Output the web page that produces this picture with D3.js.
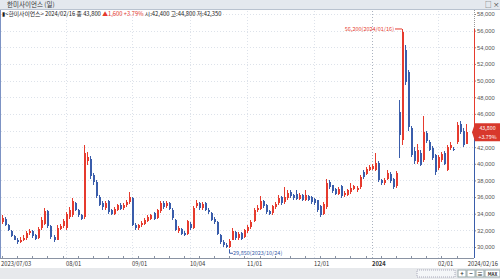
<!DOCTYPE html>
<html>
<head>
<meta charset="utf-8">
<script src="https://cdn.jsdelivr.net/npm/d3@7"></script>
<style>
  body { margin: 0; background: #fff; }
  svg { display: block; font-family: "Noto Sans CJK KR", "DejaVu Sans", sans-serif; }
</style>
</head>
<body>
<div id="viz-container"></div>
<script>
// trading days shown on the chart
const dates = [
  "2023/07/03","2023/07/04","2023/07/05","2023/07/06","2023/07/07","2023/07/10","2023/07/11","2023/07/12","2023/07/13","2023/07/14",
  "2023/07/17","2023/07/18","2023/07/19","2023/07/20","2023/07/21","2023/07/24","2023/07/25","2023/07/26","2023/07/27","2023/07/28","2023/07/31",
  "2023/08/01","2023/08/02","2023/08/03","2023/08/04","2023/08/07","2023/08/08","2023/08/09","2023/08/10","2023/08/11","2023/08/14","2023/08/16",
  "2023/08/17","2023/08/18","2023/08/21","2023/08/22","2023/08/23","2023/08/24","2023/08/25","2023/08/28","2023/08/29","2023/08/30","2023/08/31",
  "2023/09/01","2023/09/04","2023/09/05","2023/09/06","2023/09/07","2023/09/08","2023/09/11","2023/09/12","2023/09/13","2023/09/14","2023/09/15",
  "2023/09/18","2023/09/19","2023/09/20","2023/09/21","2023/09/22","2023/09/25","2023/09/26","2023/09/27",
  "2023/10/04","2023/10/05","2023/10/06","2023/10/10","2023/10/11","2023/10/12","2023/10/13","2023/10/16","2023/10/17","2023/10/18","2023/10/19",
  "2023/10/20","2023/10/23","2023/10/24","2023/10/25","2023/10/26","2023/10/27","2023/10/30","2023/10/31",
  "2023/11/01","2023/11/02","2023/11/03","2023/11/06","2023/11/07","2023/11/08","2023/11/09","2023/11/10","2023/11/13","2023/11/14","2023/11/15",
  "2023/11/16","2023/11/17","2023/11/20","2023/11/21","2023/11/22","2023/11/23","2023/11/24","2023/11/27","2023/11/28","2023/11/29","2023/11/30",
  "2023/12/01","2023/12/04","2023/12/05","2023/12/06","2023/12/07","2023/12/08","2023/12/11","2023/12/12","2023/12/13","2023/12/14","2023/12/15",
  "2023/12/18","2023/12/19","2023/12/20","2023/12/21","2023/12/22","2023/12/26","2023/12/27","2023/12/28",
  "2024/01/02","2024/01/03","2024/01/04","2024/01/05","2024/01/08","2024/01/09","2024/01/10","2024/01/11","2024/01/12","2024/01/15","2024/01/16",
  "2024/01/17","2024/01/18","2024/01/19","2024/01/22","2024/01/23","2024/01/24","2024/01/25","2024/01/26","2024/01/29","2024/01/30","2024/01/31",
  "2024/02/01","2024/02/02","2024/02/05","2024/02/06","2024/02/07","2024/02/08","2024/02/13","2024/02/14","2024/02/15","2024/02/16"
];

const open = [
  33000,33400,32600,31900,31300,30900,30600,30900,31100,31700,31900,31400,31100,32300,32800,34300,32500,31200,30900,32200,32500,
  32300,33600,33800,35300,34500,33900,33600,40300,40600,38600,37800,36000,35300,34700,35500,34400,34000,34500,35100,34700,35000,35400,
  35900,32700,32300,32600,32800,33100,33400,34100,33500,34300,35300,34900,35300,34500,33300,31900,32200,31700,31600,
  32800,32300,34900,35300,34700,35300,34500,34100,33400,33000,31500,30600,30300,30000,30900,31800,31100,31700,31200,
  31900,32400,33100,34400,34600,35500,35000,34300,34100,34800,35300,36000,35400,35900,36600,36300,36400,35800,36200,35700,36100,36000,
  35800,35600,34900,34000,34800,37800,37400,37000,36400,37300,36200,36300,36600,37000,36900,37200,39000,38800,39300,
  39400,39300,40100,38000,37700,38200,38800,38200,37300,46200,42800,53700,51000,44300,41500,40200,41300,40500,43700,42600,41900,41000,
  39500,40400,41300,39300,41900,41800,42600,44800,43900,42400
];
const close = [
  33500,32700,32000,31300,30900,30600,30900,31100,31700,31900,31300,31000,32200,33200,34300,32500,31200,30800,32300,32500,33100,
  34000,34400,35500,34500,33800,33400,41300,40800,38500,37800,36100,35100,34800,35300,34200,34000,34600,35000,34600,35100,35400,36000,
  32700,32300,32600,32900,33300,33600,33800,33400,34400,35300,34800,35300,34600,33500,32100,32300,31600,31500,33100,
  32300,34700,35300,34700,35200,34500,34200,33300,33000,31600,30600,30200,30000,30700,31900,31100,31600,31000,32000,
  32400,33000,34500,34700,35500,34900,34200,34000,34900,35200,35900,35300,36000,36500,36100,35900,35800,36300,35700,36300,35700,35400,
  35300,34400,33800,35200,37700,37200,36700,36400,37000,36100,36500,36800,37100,37300,37100,38400,38400,39400,39600,
  39700,40100,38000,37700,38000,38900,37900,37200,38900,43500,55800,49800,44400,41100,40300,41700,39900,43800,42700,41700,40700,39000,
  40800,41200,40000,42000,42200,41700,44700,43800,42200,43800
];
const high = [
  33800,33600,32800,32100,31500,31100,31200,31400,31900,32200,32000,31600,32400,33600,34700,34500,32600,31400,32600,32800,33400,
  34200,34800,35900,35400,34600,34000,42300,41400,40900,38900,38000,36200,35500,35500,35700,34600,34800,35200,35300,35300,35600,36600,
  36000,32900,32800,33100,33500,33800,34000,34200,34600,35500,35500,35500,35400,34700,33400,32500,32300,31900,33300,
  33000,34900,35700,35400,35400,35400,34700,34200,33600,33100,31600,30800,30500,31000,32300,31900,31800,31800,32200,
  32600,33200,34700,35000,36100,35600,35200,34500,35100,35400,36200,36100,37200,36800,36800,36400,36900,36500,36400,36900,36300,36100,
  35900,35700,35000,35400,38200,38000,37500,37100,37200,37400,36700,37000,37700,37500,37300,38600,39200,39600,39800,
  40000,41300,40300,38200,38300,39200,39000,38300,39100,47700,56200,54300,51300,44600,42000,42400,41600,45700,44000,42800,42100,41200,
  41000,41400,41500,42300,42600,42000,45000,45100,44300,44800
];
const low = [
  32800,32500,31900,31200,30800,30400,30500,30700,30900,31500,31100,30800,31000,32100,32600,32300,31000,30600,30800,32000,32300,
  32100,33400,33600,34300,33600,33200,33400,39900,38200,37500,35900,34900,34500,34500,34000,33800,33900,34300,34400,34500,34800,35200,
  32500,32100,32100,32400,32600,33000,33200,33200,33400,34100,34600,34700,34400,33300,31900,31700,31400,31300,31400,
  32100,32200,34700,34500,34500,34300,34000,33100,32800,31400,30400,30000,29900,29850,30800,30900,30900,30800,31100,
  31700,32200,33000,34200,34400,34700,34000,33800,33900,34600,35100,35100,35200,35700,35900,35700,35600,35600,35500,35500,35500,35200,
  35100,34200,33600,33900,34600,37000,36500,36200,36200,35900,36000,36100,36400,36800,36600,37000,38200,38600,39100,
  39200,39100,37800,37500,37500,38000,37700,37000,37100,40700,42300,49500,44000,40800,40000,40000,39700,40200,42500,41500,40500,38700,
  39300,40200,39800,39100,41700,41500,42400,43600,42000,42350
];

const yTicks = [30000,32000,34000,36000,38000,40000,42000,44000,46000,48000,50000,52000,54000,56000,58000];
const monthTicks = ["2023/07/03","2023/08/01","2023/09/01","2023/10/04","2023/11/01","2023/12/01","2024/01/02","2024/02/01"];
const monthLabels = ["2023/07/03","08/01","09/01","10/04","11/01","12/01","2024","02/01"];

const W = 500, H = 279;
const red = "#e63b2e", blue = "#3a5dab";

const svg = d3.select('#viz-container')
  .append('svg')
    .attr('width', W)
    .attr('height', H);

const candles = dates.map((d, i) => ({date: d, o: open[i], h: high[i], l: low[i], c: close[i]}));
const last = candles[candles.length - 1];

const x = d3.scaleBand().domain(dates).range([1.5, 1.5 + dates.length * 3.03]);
const y = d3.scaleLinear().domain([30000, 58000]).range([247, 14]);
const cx = d => Math.round(x(d) + x.bandwidth() / 2);

// header bar
svg.append('rect').attr('x', 0).attr('y', 0).attr('width', W).attr('height', 9).attr('fill', '#e4e8ee');
svg.append('line').attr('x1', 0).attr('x2', W).attr('y1', 9.5).attr('y2', 9.5).attr('stroke', '#b9c2cf');
svg.append('text').attr('x', 7).attr('y', 7).attr('font-size', 6.5).attr('fill', '#333').text('한미사이언스 (일)');
svg.append('text').attr('x', 485).attr('y', 7).attr('font-size', 6.5).attr('fill', '#444').text('□ ×');

// grid
const grid = svg.append('g');
grid.selectAll('line.h').data(yTicks).enter().append('line')
  .attr('x1', 1).attr('x2', 474)
  .attr('y1', d => Math.round(y(d)) + 0.5).attr('y2', d => Math.round(y(d)) + 0.5)
  .attr('stroke', '#dde2ea').attr('stroke-dasharray', '1,2');
grid.selectAll('line.v').data(monthTicks.slice(1)).enter().append('line')
  .attr('x1', d => cx(d) - 0.5).attr('x2', d => cx(d) - 0.5)
  .attr('y1', 11).attr('y2', 258)
  .attr('stroke', d => d === "2024/01/02" ? '#aab2bf' : '#dde2ea')
  .attr('stroke-dasharray', '1,2');

// left border
svg.append('line').attr('x1', 0.5).attr('x2', 0.5).attr('y1', 10).attr('y2', 258).attr('stroke', '#7d93c4');

// info line
const info = svg.append('text').attr('x', 2).attr('y', 16).attr('font-size', 5.8).attr('fill', '#222');
info.append('tspan').text('▮<한미사이언스> 2024/02/16 종 43,800 ');
info.append('tspan').attr('fill', red).text('▲1,600  +3.79% ');
info.append('tspan').text('시:42,400 고:44,800 저:42,350');

// candles
const g = svg.append('g').attr('shape-rendering', 'crispEdges');
g.selectAll('line.wick').data(candles).enter().append('line')
  .attr('x1', d => cx(d.date) - 0.5).attr('x2', d => cx(d.date) - 0.5)
  .attr('y1', d => y(d.h)).attr('y2', d => y(d.l))
  .attr('stroke', d => d.c >= d.o ? red : blue);
g.selectAll('rect.body').data(candles).enter().append('rect')
  .attr('x', d => cx(d.date) - 1)
  .attr('width', 2)
  .attr('y', d => y(Math.max(d.o, d.c)))
  .attr('height', d => Math.max(1, Math.abs(y(d.o) - y(d.c))))
  .attr('fill', d => d.c >= d.o ? red : blue);

// high / low marks
const hi = candles.reduce((a, b) => b.h > a.h ? b : a);
const lo = candles.reduce((a, b) => b.l < a.l ? b : a);
svg.append('line').attr('x1', cx(hi.date) - 8).attr('x2', cx(hi.date) - 1)
  .attr('y1', y(hi.h)).attr('y2', y(hi.h)).attr('stroke', red);
svg.append('text').attr('x', cx(hi.date) - 9).attr('y', y(hi.h) + 2).attr('text-anchor', 'end')
  .attr('font-size', 5.5).attr('fill', red).text(d3.format(',')(hi.h) + '(' + hi.date + ')');
svg.append('path')
  .attr('d', `M${cx(lo.date) - 0.5},${y(lo.l) + 1}V${y(lo.l) + 5}H${cx(lo.date) + 3}`)
  .attr('fill', 'none').attr('stroke', blue);
svg.append('text').attr('x', cx(lo.date) + 3).attr('y', y(lo.l) + 7)
  .attr('font-size', 5.5).attr('fill', blue).text(d3.format(',')(lo.l) + '(' + lo.date + ')');

// right axis (labels under the price box are hidden)
const visibleTicks = yTicks.filter(t => Math.abs(y(t) - y(last.c)) > 10);
const axis = svg.append('g').attr('transform', 'translate(474,0)')
  .call(d3.axisRight(y).tickValues(visibleTicks).tickFormat(d3.format(',')).tickSize(2));
axis.select('.domain').remove();
axis.selectAll('text').attr('font-size', 5.8).attr('fill', '#555').attr('x', 3);
axis.selectAll('line').attr('stroke', '#888');
svg.append('line').attr('x1', 474.5).attr('x2', 474.5).attr('y1', 10).attr('y2', y(hi.h))
  .attr('stroke', '#999').attr('stroke-dasharray', '1,1');
svg.append('line').attr('x1', 474.5).attr('x2', 474.5).attr('y1', y(hi.h)).attr('y2', y(last.c))
  .attr('stroke', red);
svg.append('line').attr('x1', 474.5).attr('x2', 474.5).attr('y1', y(last.c)).attr('y2', 258)
  .attr('stroke', blue);

// current price box
const pct = (last.c - close[close.length - 2]) / close[close.length - 2] * 100;
const py = y(last.c);
svg.append('path')
  .attr('d', `M472,${py}L475,${py - 9}H500V${py + 9}H475Z`)
  .attr('fill', '#d8382c');
svg.append('text').attr('x', 487.5).attr('y', py - 2.5).attr('text-anchor', 'middle')
  .attr('font-size', 5.3).attr('fill', '#fff').text(d3.format(',')(last.c));
svg.append('text').attr('x', 487.5).attr('y', py + 6.5).attr('text-anchor', 'middle')
  .attr('font-size', 5.3).attr('fill', '#fff').text('+' + pct.toFixed(2) + '%');

// bottom axis
svg.append('line').attr('x1', 0).attr('x2', 474).attr('y1', 258.5).attr('y2', 258.5).attr('stroke', '#8a93a3');
const minorTicks = dates.filter((d, i) => i % 5 === 0);
svg.selectAll('line.minor').data(minorTicks).enter().append('line')
  .attr('x1', d => cx(d) - 0.5).attr('x2', d => cx(d) - 0.5)
  .attr('y1', 256).attr('y2', 258).attr('stroke', '#8a93a3');
svg.selectAll('text.month').data(monthTicks).enter().append('text')
  .attr('x', (d, i) => i === 0 ? 1 : cx(d) - 1)
  .attr('y', 265.5)
  .attr('font-size', 5.8)
  .attr('font-weight', (d, i) => monthLabels[i] === '2024' ? 'bold' : 'normal')
  .attr('fill', '#333')
  .text((d, i) => monthLabels[i]);
svg.append('text').attr('x', 498).attr('y', 265.5).attr('text-anchor', 'end')
  .attr('font-size', 5.8).attr('fill', '#333').text(dates[dates.length - 1]);

// scroll bar
svg.append('rect').attr('x', 0).attr('y', 268).attr('width', W).attr('height', 11).attr('fill', '#e7e9ec');
svg.append('rect').attr('x', 417).attr('y', 270).attr('width', 38).attr('height', 7)
  .attr('fill', '#f4f6f8').attr('stroke', '#aab').attr('stroke-dasharray', '1,1');
const btns = ['+', '−', '≡', 'MAX'];
svg.selectAll('g.btn').data(btns).enter().append('g')
  .each(function (d, i) {
    const bx = 458 + i * 9, bw = d === 'MAX' ? 15 : 8;
    d3.select(this).append('rect').attr('x', bx).attr('y', 270).attr('width', bw).attr('height', 7)
      .attr('fill', '#fff').attr('stroke', '#9aa');
    d3.select(this).append('text').attr('x', bx + bw / 2).attr('y', 276).attr('text-anchor', 'middle')
      .attr('font-size', d === 'MAX' ? 4.5 : 6).attr('font-weight', 'bold').attr('fill', '#333').text(d);
  });
</script>
</body>
</html>
